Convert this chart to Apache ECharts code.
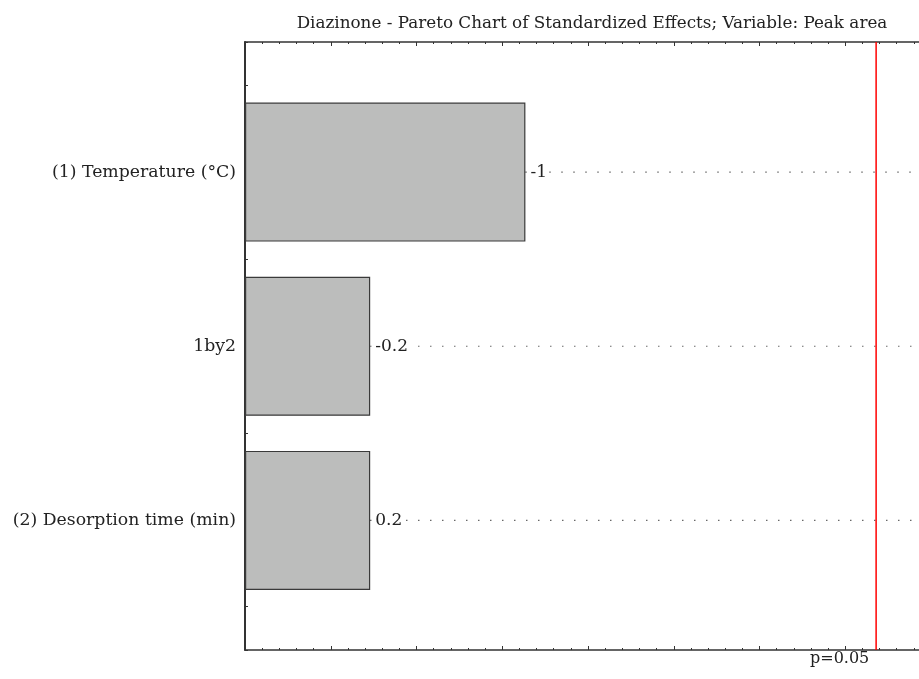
<!DOCTYPE html>
<html>
<head>
<meta charset="utf-8">
<script src="https://cdn.jsdelivr.net/npm/echarts@6/dist/echarts.min.js"></script>
<style>html,body{margin:0;padding:0;background:#fff;overflow:hidden}#c{width:931px;height:679px}</style>
</head>
<body>
<div id="c"></div>
<script>
// ---- data ----
const categories = ['(1) Temperature (°C)', '1by2', '(2) Desorption time (min)'];
const effects = [3.27, 1.46, 1.46];          // bar length (standardized effect, axis units)
const effectLabels = ['-1', '-0.2', '0.2'];  // printed effect estimates
const pCritical = 7.36;                      // p=0.05 reference
const pLabel = 'p=0.05';
const xMin = 0, xMax = 8, xInterval = 1;
const frameYMin = -0.75, frameYMax = 2.75, frameYInterval = 0.25;
const titleText = 'Diazinone - Pareto Chart of Standardized Effects; Variable: Peak area';

const FONT = 'DejaVu Serif';
const chart = echarts.init(document.getElementById('c'), null, {renderer: 'canvas'});

const frameX = (pos) => ({
  type: 'value', gridIndex: 0, position: pos, min: xMin, max: xMax, interval: xInterval,
  axisLine: {show: true, onZero: false, lineStyle: {color: '#333', width: 1.5}},
  axisTick: {show: true, inside: true, length: 4, lineStyle: {color: '#333'}},
  minorTick: {show: true, splitNumber: 5, length: 2, lineStyle: {color: '#333'}},
  axisLabel: {show: false}, splitLine: {show: false}
});

const dotted = categories.map((c, i) => ({
  type: 'line', xAxisIndex: 2, yAxisIndex: 1, z: 1, silent: true,
  symbol: 'none', animation: false,
  lineStyle: {color: '#444', width: 1.2, type: [1.2, 10.8]},
  data: [[effects[i], c], [xMax, c]]
}));

chart.setOption({
  animation: false,
  title: {
    text: titleText, left: 587, top: 10, textAlign: 'center',
    textStyle: {fontFamily: FONT, fontSize: 16.8, fontWeight: 'normal', color: '#222'}
  },
  grid: [
    {left: 245, right: 0, top: 42, height: 608},
    {left: 245, right: 0, top: 85, height: 522.5}
  ],
  xAxis: [
    frameX('bottom'),
    frameX('top'),
    {type: 'value', gridIndex: 1, min: xMin, max: xMax, show: false}
  ],
  yAxis: [
    {
      type: 'value', gridIndex: 0, min: frameYMin, max: frameYMax, interval: frameYInterval, inverse: true,
      axisLine: {show: true, onZero: false, lineStyle: {color: '#333', width: 2}},
      axisTick: {show: true, inside: true, length: 3, lineStyle: {color: '#333'}},
      axisLabel: {show: false}, splitLine: {show: false}
    },
    {
      type: 'category', gridIndex: 1, data: categories, inverse: true,
      axisLine: {show: false}, axisTick: {show: false},
      axisLabel: {margin: 9, fontFamily: FONT, fontSize: 17.3, color: '#222'}
    }
  ],
  graphic: [{
    type: 'text', left: 810, top: 651,
    style: {text: pLabel, fontFamily: FONT, fontSize: 16, fill: '#222'}
  }],
  series: [
    ...dotted,
    {
      type: 'bar', xAxisIndex: 2, yAxisIndex: 1, z: 3, barWidth: 139,
      data: effects,
      itemStyle: {color: '#bcbdbc', borderColor: '#3a3a3a', borderWidth: 1.2},
      label: {
        show: true, position: 'right', distance: 2,
        formatter: (p) => effectLabels[p.dataIndex],
        fontFamily: FONT, fontSize: 17, color: '#222',
        backgroundColor: '#fff', padding: [1, 2, 1, 3]
      }
    },
    {
      type: 'line', xAxisIndex: 0, yAxisIndex: 0, z: 4, symbol: 'none', silent: true,
      lineStyle: {color: '#ff0000', width: 1.5},
      data: [[pCritical, frameYMin], [pCritical, frameYMax]]
    }
  ]
});
</script>
</body>
</html>
